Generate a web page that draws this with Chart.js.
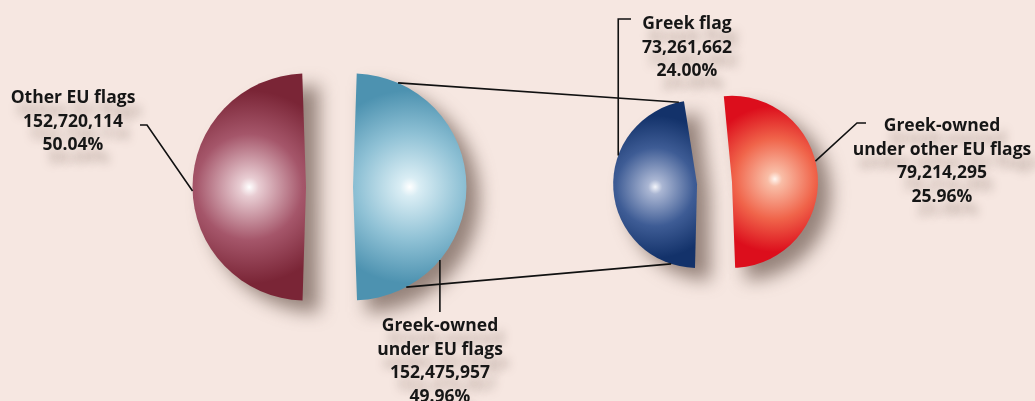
<!DOCTYPE html>
<html>
<head>
<meta charset="utf-8">
<title>EU fleet tonnage</title>
<script src="https://cdn.jsdelivr.net/npm/chart.js@4.4.1/dist/chart.umd.min.js"></script>
<style>
    html, body { margin: 0; padding: 0; }
    body {
        width: 1035px; height: 401px; overflow: hidden; position: relative;
        background: #f6e7e1;
        font-family: "Open Sans", "DejaVu Sans", sans-serif;
    }
    canvas { position: absolute; left: 0; top: 0; }
    .lbl {
        position: absolute; transform: translateX(-50%);
        text-align: center; white-space: nowrap;
        font-size: 17.5px; font-weight: 700; line-height: 23.5px; color: #161616;
        text-shadow: 6px 13px 10px rgba(110, 90, 80, 0.4);
    }
</style>
</head>
<body>
<canvas id="fleetPie" width="1035" height="401"></canvas>
<canvas id="greekPie" width="1035" height="401"></canvas>
<div id="labels"></div>

<script>
    // EU fleet: all flags split by ownership
    var fleetNames = [['Greek-owned', 'under EU flags'], ['Other EU flags']];
    var fleetTonnage = [152475957, 152720114];

    // Greek-owned part split by flag
    var greekNames = [['Greek-owned', 'under other EU flags'], ['Greek flag']];
    var greekTonnage = [79214295, 73261662];

    // colour stops per slice: highlight, light, mid, edge
    var fleetShades = [
        ['#ffffff', '#d9edf4', '#8fc1d5', '#4d92b0'],
        ['#ffffff', '#e8ccd2', '#a5566a', '#7a2536']
    ];
    var greekShades = [
        ['#fff6f0', '#f9bda6', '#f0644a', '#dc0e1c'],
        ['#f3f5fb', '#aab6d3', '#3e5c95', '#13326a']
    ];

    var total = fleetTonnage[0] + fleetTonnage[1];

    // Chart.js moves an exploded arc by offset/4 and grows it by offset/4 * fix
    function arcShape(arc) {
        var shift = (arc.options.offset || 0) / 4;
        var fix = 1 - Math.sin(Math.min(Math.PI, arc.circumference));
        return {
            mid: (arc.startAngle + arc.endAngle) / 2,
            shift: shift,
            r: arc.outerRadius + shift * fix
        };
    }

    function shade(palette) {
        return function (c) {
            var stops = palette[c.dataIndex];
            var arc = c.chart.getDatasetMeta(0).data[c.dataIndex];
            if (!arc || arc.outerRadius === undefined) {
                return stops[2];
            }
            var s = arcShape(arc);
            var hx = arc.x + Math.cos(s.mid) * s.r * 0.5;
            var hy = arc.y + Math.sin(s.mid) * s.r * 0.5;
            var g = c.chart.ctx.createRadialGradient(hx, hy, 0, hx, hy, s.r * 0.85);
            g.addColorStop(0, stops[0]);
            g.addColorStop(0.1, stops[1]);
            g.addColorStop(0.55, stops[2]);
            g.addColorStop(1, stops[3]);
            return g;
        };
    }

    // soft shadow under every slice, drawn before the slices themselves
    var dropShadow = {
        id: 'dropShadow',
        beforeDatasetsDraw: function (chart) {
            var ctx = chart.ctx;
            chart.getDatasetMeta(0).data.forEach(function (arc) {
                var s = arcShape(arc);
                var ox = arc.x + Math.cos(s.mid) * s.shift + 13;
                var oy = arc.y + Math.sin(s.mid) * s.shift + 12;
                ctx.save();
                ctx.filter = 'blur(9px)';
                ctx.fillStyle = 'rgba(90, 70, 60, 0.62)';
                ctx.beginPath();
                ctx.moveTo(ox, oy);
                ctx.arc(ox, oy, s.r, arc.startAngle, arc.endAngle);
                ctx.closePath();
                ctx.fill();
                ctx.restore();
            });
        }
    };

    function pieOptions(radius, rotation, padding) {
        return {
            responsive: false,
            animation: false,
            events: [],
            radius: radius,
            rotation: rotation,
            layout: {padding: padding},
            plugins: {
                legend: {display: false},
                tooltip: {enabled: false}
            }
        };
    }

    // point on the rim of a slice, angle in degrees clockwise from 12 o'clock
    function rimPoint(chart, index, deg) {
        var arc = chart.getDatasetMeta(0).data[index];
        var s = arcShape(arc);
        var a = (deg - 90) * Math.PI / 180;
        return {
            x: arc.x + Math.cos(s.mid) * s.shift + Math.cos(a) * s.r,
            y: arc.y + Math.sin(s.mid) * s.shift + Math.sin(a) * s.r
        };
    }

    var fleetPie = new Chart(document.getElementById('fleetPie'), {
        type: 'pie',
        data: {
            labels: fleetNames.map(function (n) { return n.join(' '); }),
            datasets: [{
                data: fleetTonnage,
                backgroundColor: shade(fleetShades),
                borderWidth: 0,
                offset: 94
            }]
        },
        options: pieOptions(90, 0, {left: 0, right: 376, top: 0, bottom: 27}),
        plugins: [dropShadow]
    });

    var leaders = {
        id: 'leaders',
        afterDraw: function (chart) {
            var ctx = chart.ctx;
            var lines = [
                [rimPoint(fleetPie, 0, 23.4), rimPoint(chart, 1, 347.5)],
                [rimPoint(fleetPie, 0, 152), rimPoint(chart, 1, 198)],
                [rimPoint(fleetPie, 1, 268), {x: 147, y: 125}, {x: 140, y: 125}],
                [rimPoint(fleetPie, 0, 130)],
                [rimPoint(chart, 1, 290)],
                [rimPoint(chart, 0, 76), {x: 857, y: 123}, {x: 866, y: 123}]
            ];
            // vertical drops to the lower and the top label
            lines[3].push({x: lines[3][0].x, y: 312});
            lines[4].push({x: lines[4][0].x, y: 19}, {x: 631, y: 19});

            ctx.save();
            ctx.strokeStyle = '#111';
            ctx.lineWidth = 1.6;
            lines.forEach(function (pts) {
                ctx.beginPath();
                ctx.moveTo(pts[0].x, pts[0].y);
                for (var i = 1; i < pts.length; i++) {
                    ctx.lineTo(pts[i].x, pts[i].y);
                }
                ctx.stroke();
            });
            ctx.restore();
        }
    };

    var greekPie = new Chart(document.getElementById('greekPie'), {
        type: 'pie',
        data: {
            labels: greekNames.map(function (n) { return n.join(' '); }),
            datasets: [{
                data: greekTonnage,
                backgroundColor: shade(greekShades),
                borderWidth: 0,
                offset: 70
            }]
        },
        options: pieOptions(68.5, -7.3, {left: 394, right: 0, top: 0, bottom: 35}),
        plugins: [dropShadow, leaders]
    });

    // second pass so the gradients and shadows see the arc geometry
    fleetPie.update();
    greekPie.update();

    function labelHtml(name, value) {
        return name.concat([
            value.toLocaleString('en-US'),
            (value / total * 100).toFixed(2) + '%'
        ]).join('<br>');
    }

    var spots = [
        {names: fleetNames, values: fleetTonnage, i: 0, x: 440, y: 313},
        {names: fleetNames, values: fleetTonnage, i: 1, x: 73, y: 85},
        {names: greekNames, values: greekTonnage, i: 0, x: 942, y: 113},
        {names: greekNames, values: greekTonnage, i: 1, x: 687, y: 11}
    ];
    var box = document.getElementById('labels');
    spots.forEach(function (s) {
        var el = document.createElement('div');
        el.className = 'lbl';
        el.style.left = s.x + 'px';
        el.style.top = s.y + 'px';
        el.innerHTML = labelHtml(s.names[s.i], s.values[s.i]);
        box.appendChild(el);
    });
</script>
</body>
</html>
